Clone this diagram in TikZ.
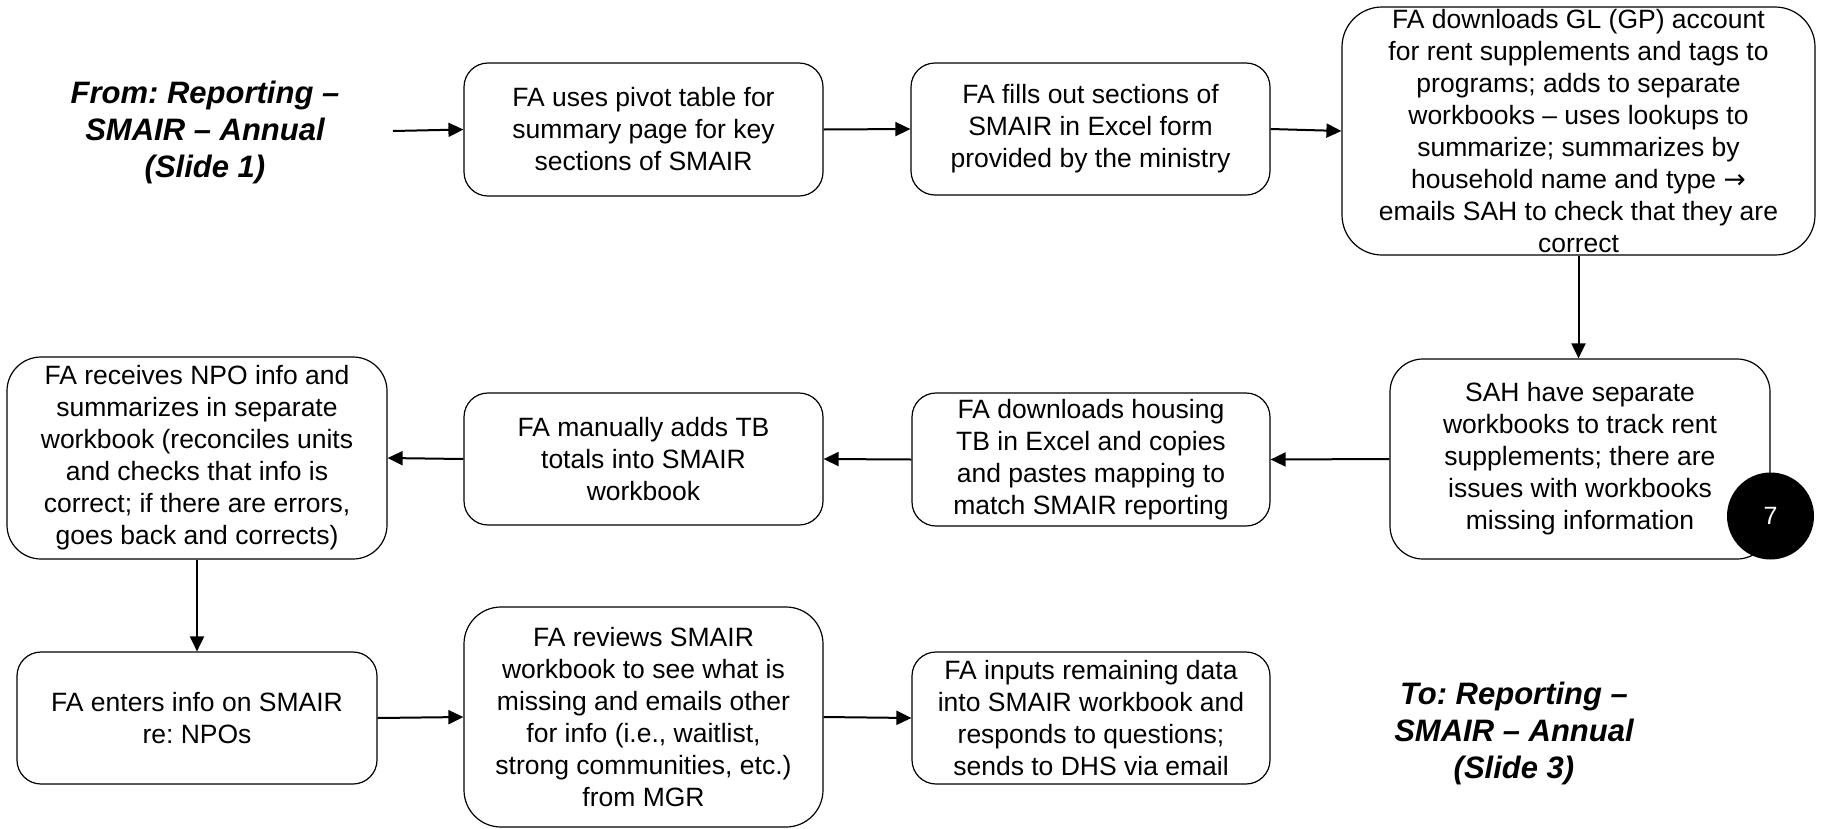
\documentclass[tikz,border=0pt]{standalone}
\usepackage{fontspec}
\setmainfont{Liberation Sans}
\newfontfamily\arrowfont{DejaVu Sans}
\usetikzlibrary{arrows.meta}
\frenchspacing
\begin{document}
\begin{tikzpicture}[x=1pt,y=-1pt,
  box/.style={draw=black, line width=1.2pt, fill=white, align=center,
    inner sep=0pt, font=\fontsize{26.5}{32}\selectfont},
  title/.style={align=center, inner sep=0pt,
    font=\fontsize{31}{37}\selectfont\bfseries\itshape},
  flow/.style={line width=2pt, -{Triangle[length=15pt,width=14pt]}},
  badge/.style={circle, fill=black, minimum size=87pt, inner sep=0pt,
    text=white, font=\fontsize{25}{30}\selectfont}]
\useasboundingbox (0,0) rectangle (1824,828);

% entry and exit labels
\node[title] (from) at (205,132) {From: Reporting --\\SMAIR -- Annual\\(Slide 1)};
\node[title] (to) at (1514,733) {To: Reporting --\\SMAIR -- Annual\\(Slide 3)};
\coordinate (start) at (393,131);

% first row
\node[box, minimum width=359pt, minimum height=133pt, rounded corners=24pt] (b1) at (643.5,129.5)
  {FA uses pivot table for\\summary page for key\\sections of SMAIR};
\node[box, minimum width=359pt, minimum height=132pt, rounded corners=24pt] (b2) at (1090.5,129)
  {FA fills out sections of\\SMAIR in Excel form\\provided by the ministry};
\node[box, minimum width=473pt, minimum height=248pt, rounded corners=40pt] (b3) at (1578.5,131)
  {FA downloads GL (GP) account\\for rent supplements and tags to\\programs; adds to separate\\workbooks -- uses lookups to\\summarize; summarizes by\\household name and type {\arrowfont →}\\emails SAH to check that they are\\correct};

% second row
\node[box, minimum width=380pt, minimum height=200pt, rounded corners=33pt] (b4) at (1580,459)
  {SAH have separate\\workbooks to track rent\\supplements; there are\\issues with workbooks\\missing information};
\node[badge] (n7) at (1770.5,516) {7};
\node[box, minimum width=358pt, minimum height=133pt, rounded corners=24pt] (b5) at (1091,459.5)
  {FA downloads housing\\TB in Excel and copies\\and pastes mapping to\\match SMAIR reporting};
\node[box, minimum width=359pt, minimum height=132pt, rounded corners=24pt] (b6) at (643.5,459)
  {FA manually adds TB\\totals into SMAIR\\workbook};
\node[box, minimum width=380pt, minimum height=202pt, rounded corners=34pt] (b7) at (197,458)
  {FA receives NPO info and\\summarizes in separate\\workbook (reconciles units\\and checks that info is\\correct; if there are errors,\\goes back and corrects)};

% third row
\node[box, minimum width=360pt, minimum height=132pt, rounded corners=24pt] (b8) at (197,718)
  {FA enters info on SMAIR\\re: NPOs};
\node[box, minimum width=359pt, minimum height=220pt, rounded corners=37pt] (b9) at (643.5,717)
  {FA reviews SMAIR\\workbook to see what is\\missing and emails other\\for info (i.e., waitlist,\\strong communities, etc.)\\from MGR};
\node[box, minimum width=358pt, minimum height=132pt, rounded corners=24pt] (b10) at (1091,718)
  {FA inputs remaining data\\into SMAIR workbook and\\responds to questions;\\sends to DHS via email};

% connectors
\draw[flow] (start) -- (b1.west);
\draw[flow] (b1.east) -- (b2.west);
\draw[flow] (b2.east) -- (b3.west);
\draw[flow] (b3.south) -- (b3.south |- b4.north);
\draw[flow] (b4.west) -- (b5.east);
\draw[flow] (b5.west) -- (b6.east);
\draw[flow] (b6.west) -- (b7.east);
\draw[flow] (b7.south) -- (b8.north);
\draw[flow] (b8.east) -- (b9.west);
\draw[flow] (b9.east) -- (b10.west);
\end{tikzpicture}
\end{document}
